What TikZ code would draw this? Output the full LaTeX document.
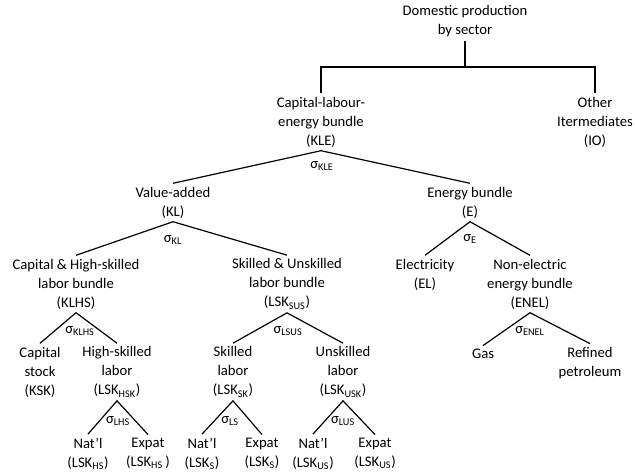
\documentclass[tikz,border=0pt]{standalone}
\usepackage{fontspec}
\setmainfont{Carlito}
\begin{document}
\begin{tikzpicture}[x=0.75pt,y=-0.75pt,
  every node/.style={align=center, inner sep=2.5pt, font=\fontsize{11}{14.25}\selectfont},
  link/.style={line width=0.9pt, black},
  sig/.style={inner sep=0pt}]
\useasboundingbox (0,0) rectangle (635,475);
% level 0
\node (top) at (465,21.5) {Domestic production\\by sector};
% level 1
\node (kle) at (321,122) {Capital-labour-\\energy bundle\\(KLE)};
\node (io) at (595,122) {Other\\Itermediates\\(IO)};
\coordinate (j) at (465,67);
% level 2
\node (kl) at (173,202.5) {Value-added\\(KL)};
\node (e) at (470,202.5) {Energy bundle\\(E)};
% level 3
\node (klhs) at (76,284) {Capital \& High-skilled\\labor bundle\\(KLHS)};
\node (sus) at (287,284) {Skilled \& Unskilled\\labor bundle\\(LSK\textsubscript{SUS})};
\node (el) at (425,274.5) {Electricity\\(EL)};
\node (enel) at (530,284) {Non-electric\\energy bundle\\(ENEL)};
% level 4
\node (ksk) at (40,372) {Capital\\stock\\(KSK)};
\node (hsk) at (117,372) {High-skilled\\labor\\(LSK\textsubscript{HSK})};
\node (sk) at (233,372) {Skilled\\labor\\(LSK\textsubscript{SK})};
\node (usk) at (343,372) {Unskilled\\labor\\(LSK\textsubscript{USK})};
\node (gas) at (483,354) {Gas};
\node (ref) at (590,363) {Refined\\petroleum};
% level 5
\node (nhs) at (88,453.5) {Nat'l\\(LSK\textsubscript{HS})};
\node (ehs) at (148,453.5) {Expat\\(LSK\textsubscript{HS}\,)};
\node (ns) at (202,453.5) {Nat'l\\(LSK\textsubscript{S})};
\node (es) at (262,453.5) {Expat\\(LSK\textsubscript{S})};
\node (nus) at (313,453.5) {Nat'l\\(LSK\textsubscript{US})};
\node (eus) at (375,453.5) {Expat\\(LSK\textsubscript{US})};
% sigma labels
\node[sig] (skle) at (322,166) {σ\textsubscript{KLE}};
\node[sig] (skl) at (173,240) {σ\textsubscript{KL}};
\node[sig] (se) at (470,239) {σ\textsubscript{E}};
\node[sig] (sklhs) at (80,331) {σ\textsubscript{KLHS}};
\node[sig] (slsus) at (288,331) {σ\textsubscript{LSUS}};
\node[sig] (senel) at (530,331) {σ\textsubscript{ENEL}};
\node[sig] (slhs) at (118,421) {σ\textsubscript{LHS}};
\node[sig] (sls) at (230,421) {σ\textsubscript{LS}};
\node[sig] (slus) at (343,421) {σ\textsubscript{LUS}};
% connectors
\draw[link] (top.south) -- (j);
\draw[link] (kle.north) -- (kle.north |- j) -- (io.north |- j) -- (io.north);
\draw[link] (kl.north) -- (kle.south) -- (e.north);
\draw[link] (klhs.north) -- (kl.south) -- (sus.north);
\draw[link] (el.north) -- (e.south) -- (enel.north);
\draw[link] (ksk.north) -- (klhs.south) -- (hsk.north);
\draw[link] (sk.north) -- (sus.south) -- (usk.north);
\draw[link] (gas.north) -- (enel.south) -- (ref.north);
\draw[link] (nhs.north) -- (hsk.south) -- (ehs.north);
\draw[link] (ns.north) -- (sk.south) -- (es.north);
\draw[link] (nus.north) -- (usk.south) -- (eus.north);
\end{tikzpicture}
\end{document}
